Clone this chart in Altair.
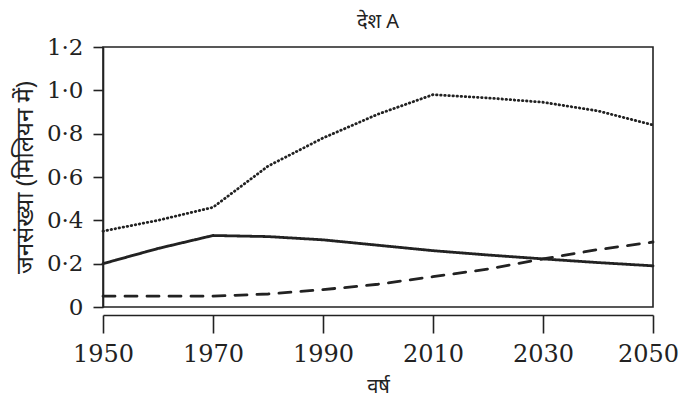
import altair as alt
import pandas as pd

years = [1950, 1960, 1970, 1980, 1990, 2000, 2010, 2020, 2030, 2040, 2050]
dotted = [0.35, 0.40, 0.46, 0.65, 0.78, 0.89, 0.98, 0.965, 0.945, 0.905, 0.84]
solid = [0.20, 0.27, 0.33, 0.325, 0.31, 0.285, 0.26, 0.24, 0.222, 0.205, 0.19]
dashed = [0.05, 0.05, 0.05, 0.06, 0.08, 0.105, 0.14, 0.175, 0.222, 0.265, 0.30]
x_ticks = [1950, 1970, 1990, 2010, 2030, 2050]
y_ticks = [0, 0.2, 0.4, 0.6, 0.8, 1.0, 1.2]

rows = []
for name, vals in [("dotted", dotted), ("solid", solid), ("dashed", dashed)]:
    for yr, v in zip(years, vals):
        rows.append({"year": yr, "value": v, "series": name})
df = pd.DataFrame(rows)

ink = "#222222"
serif = "DejaVu Serif"

chart = alt.Chart(df).mark_line(strokeWidth=2.8, color=ink, strokeCap="round").encode(
    x=alt.X(
        "year:Q",
        scale=alt.Scale(domain=[1950, 2050], nice=False, zero=False),
        axis=alt.Axis(
            values=x_ticks, format="d", title="वर्ष", offset=8, tickSize=18,
            labelFlush=False, grid=False, domainColor=ink, tickColor=ink,
            domainWidth=1.6, tickWidth=1.6, labelFont=serif, labelFontSize=24,
            labelOffset={"condition": {"test": "datum.value == 2050", "value": -5}, "value": 0},
            labelColor=ink, labelPadding=9, titleFont="Noto Sans", titleFontSize=20,
            titleFontWeight="normal", titleColor=ink, titlePadding=10,
        ),
    ),
    y=alt.Y(
        "value:Q",
        scale=alt.Scale(domain=[0, 1.2], nice=False),
        axis=alt.Axis(
            values=y_ticks,
            labelExpr="datum.value == 0 ? '0' : replace(format(datum.value, '.1f'), '.', '·')",
            title="जनसंख्या (मिलियन में)", tickSize=10, grid=False, domainColor=ink,
            tickColor=ink, domainWidth=1.6, tickWidth=1.6, labelFont=serif,
            labelFontSize=23, labelColor=ink, labelPadding=10, titleFont="Noto Sans",
            titleFontSize=24, titleFontWeight="normal", titleColor=ink, titlePadding=9,
        ),
    ),
    strokeDash=alt.StrokeDash(
        "series:N",
        scale=alt.Scale(domain=["dotted", "solid", "dashed"], range=[[0.5, 3.6], [1, 0], [12, 10]]),
        legend=None,
    ),
    detail="series:N",
).properties(
    width=550,
    height=260,
    title=alt.TitleParams("देश A", font="Noto Sans", fontSize=20, fontWeight="normal", color=ink, offset=4),
    autosize=alt.AutoSizeParams(type="none"),
    padding={"left": 95, "top": 39, "right": 26, "bottom": 93},
).configure_view(stroke=ink, strokeWidth=1.6)

chart.save("out.html", embed_options={"renderer": "svg", "actions": False})
